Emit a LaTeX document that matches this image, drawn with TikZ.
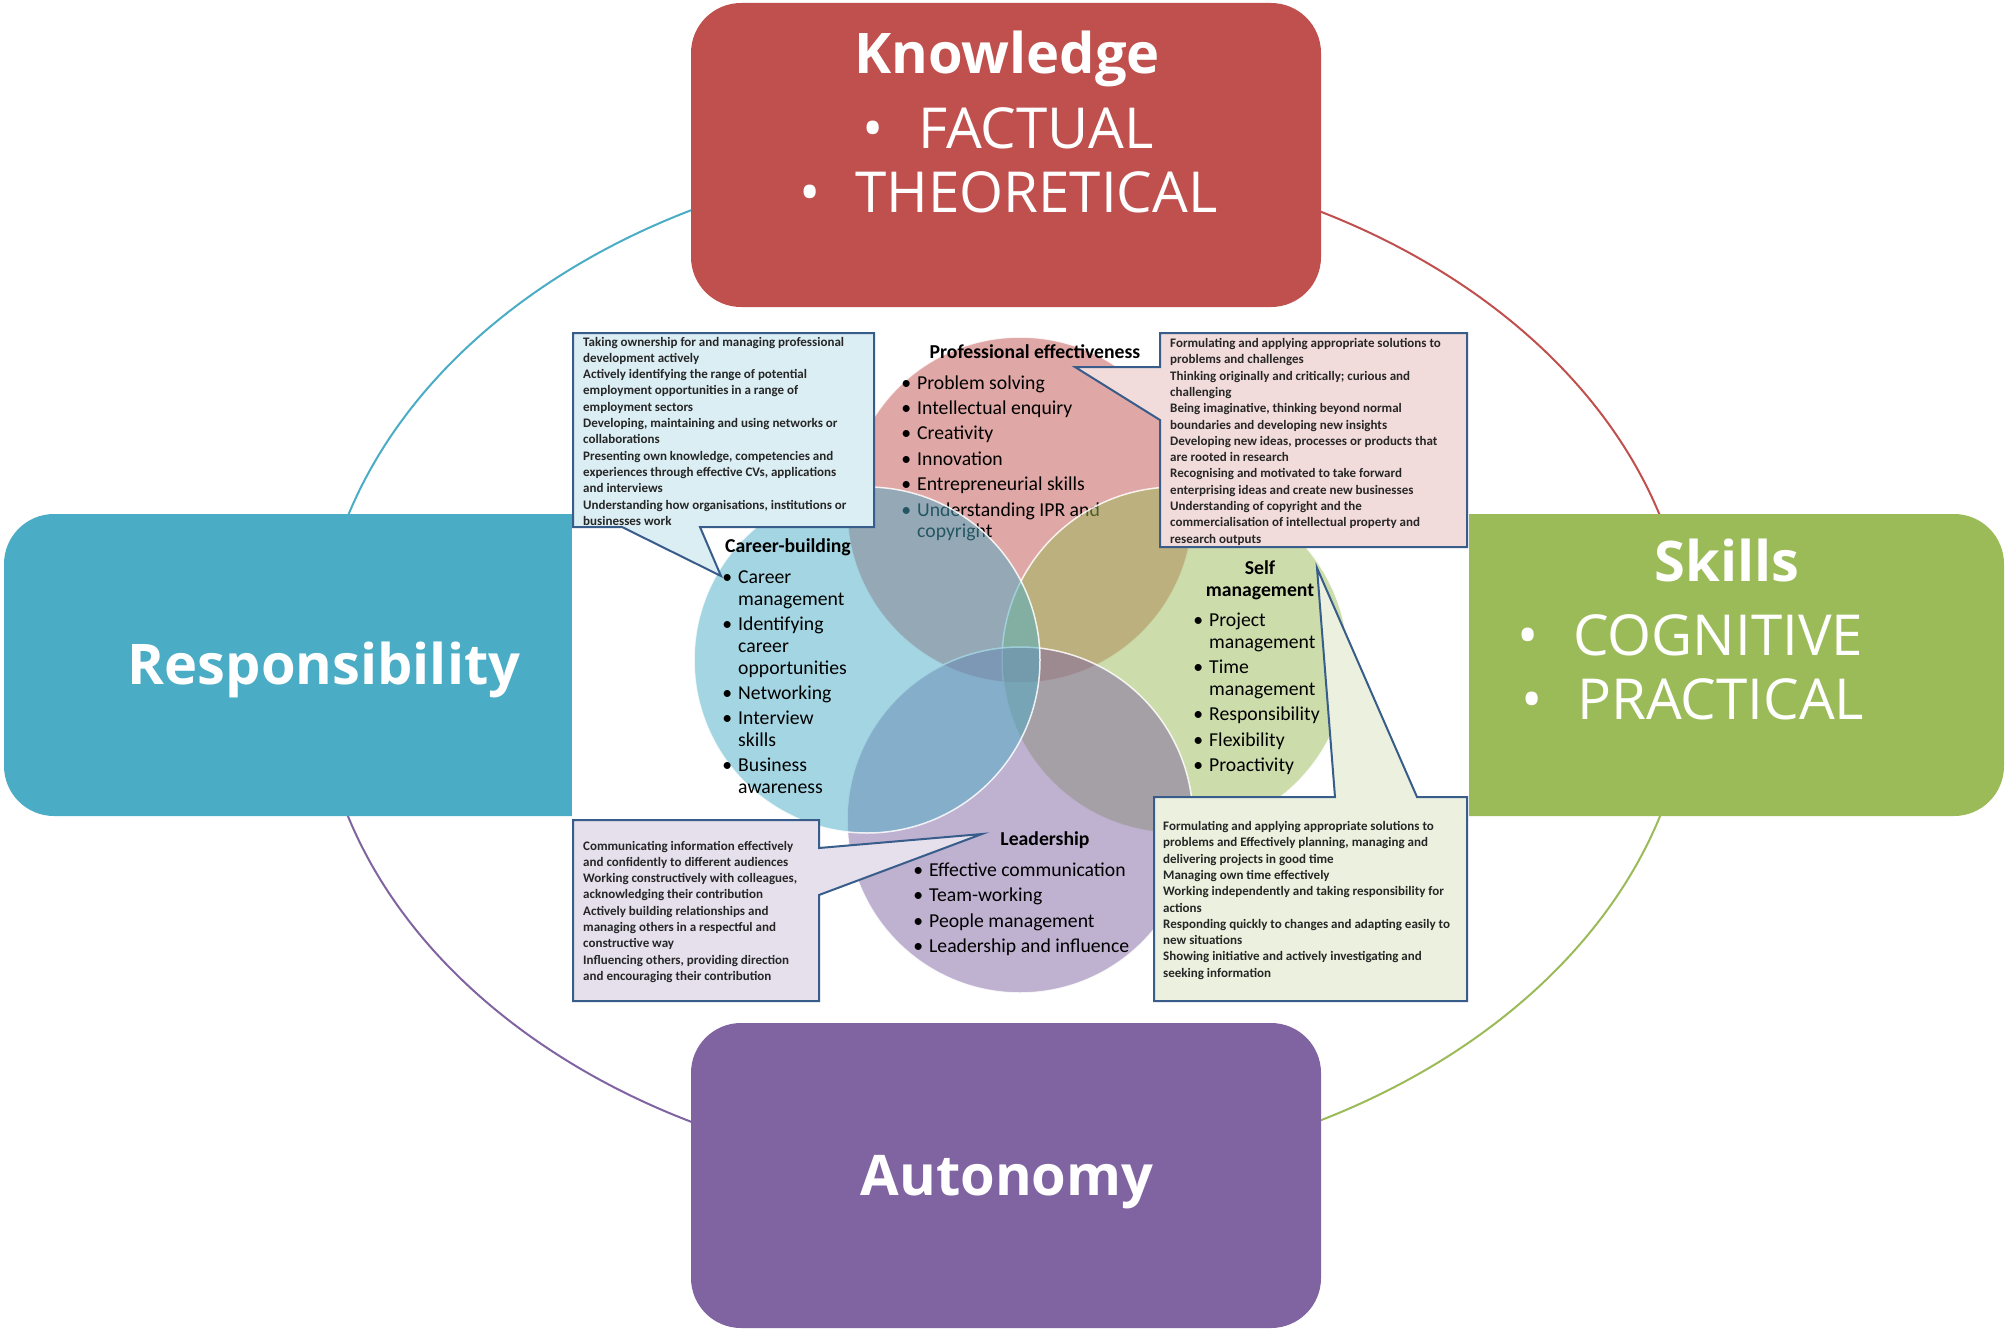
\documentclass[tikz,border=0pt]{standalone}
\usepackage{fontspec}
\setmainfont{Carlito}
\newfontfamily\titlefont{Open Sans}
\usetikzlibrary{calc}
\definecolor{knowred}{HTML}{C0504D}
\definecolor{respblue}{HTML}{4BACC6}
\definecolor{skillgreen}{HTML}{9BBB59}
\definecolor{autopurple}{HTML}{8064A2}
\definecolor{calloutline}{HTML}{385D8A}
\definecolor{careerfill}{HTML}{DBEEF4}
\definecolor{proffill}{HTML}{F2DCDB}
\definecolor{leadfill}{HTML}{E5E0EC}
\definecolor{selffill}{HTML}{EBF1DE}
\newcommand{\bul}{\llap{\textbullet\hspace{6pt}}}
\newcommand{\bigbul}{\llap{\textbullet\hspace{34pt}}}
\begin{document}
\begin{tikzpicture}[x=1pt,y=-1pt,
  areabox/.style={rounded corners=50pt, draw=none, inner sep=0pt},
  ringarc/.style={line width=2pt},
  bigtitle/.style={font={\titlefont\fontsize{56}{60}\selectfont\bfseries}, text=white, anchor=base, inner sep=0pt},
  facet/.style={font={\titlefont\fontsize{56.5}{60}\selectfont}, text=white, anchor=base west, inner sep=0pt},
  venn/.style={fill opacity=0.5, draw=white, draw opacity=0.85, line width=1.5pt},
  head/.style={font={\fontsize{19.7}{21.7}\selectfont\bfseries}, anchor=base, align=center, inner sep=0pt},
  items/.style={font={\fontsize{19.7}{21.7}\selectfont}, anchor=base west, align=left, inner sep=0pt},
  calloutbox/.style={draw=calloutline, line width=2pt, line join=miter},
  note/.style={font={\fontsize{13}{16.3}\selectfont\bfseries}, text=black!85, anchor=base west, align=left, inner sep=0pt}]
\useasboundingbox (0,0) rectangle (2006,1330);
\coordinate (ring) at (1004,666);
\draw[ringarc, respblue] ([xshift=-686pt]ring) arc[start angle=180, end angle=90, x radius=686pt, y radius=512pt];
\draw[ringarc, knowred] ([yshift=512pt]ring) arc[start angle=90, end angle=0, x radius=686pt, y radius=512pt];
\draw[ringarc, skillgreen] ([xshift=686pt]ring) arc[start angle=0, end angle=-90, x radius=686pt, y radius=512pt];
\draw[ringarc, autopurple] ([yshift=-512pt]ring) arc[start angle=-90, end angle=-180, x radius=686pt, y radius=512pt];
\node[areabox, fill=knowred, minimum width=630pt, minimum height=304pt] (knowbox) at (1006,155) {};
\node[areabox, fill=respblue, minimum width=696pt, minimum height=302pt] (respbox) at (352,665) {};
\node[areabox, fill=skillgreen, minimum width=604pt, minimum height=302pt] (skillbox) at (1702,665) {};
\node[areabox, fill=autopurple, minimum width=630pt, minimum height=305pt] (autobox) at (1006,1175.5) {};
\fill[white] (572,330) rectangle (1469,1004);
\node[bigtitle] (knowtitle) at (1007,74) {Knowledge};
\node[facet] (factual) at (918,148) {\bigbul FACTUAL};
\node[facet] (theoretical) at (855,212) {\bigbul THEORETICAL};
\node[bigtitle] (skilltitle) at (1727,581) {Skills};
\node[facet] (cognitive) at (1573,655) {\bigbul COGNITIVE};
\node[facet] (practical) at (1577,719) {\bigbul PRACTICAL};
\node[bigtitle] (resptitle) at (324,684) {Responsibility};
\node[bigtitle] (autotitle) at (1007,1195) {Autonomy};
\filldraw[venn, fill=knowred] (1020,510) circle[radius=173pt];
\node[head] (proftitle) at (1035,358.5) {Professional effectiveness};
\node[items] (proflist) at (917,537.7) {\bul Problem solving\\[3.7pt] \bul Intellectual enquiry\\[3.7pt] \bul Creativity\\[3.7pt] \bul Innovation\\[3.7pt] \bul Entrepreneurial skills\\[3.7pt] \bul Understanding IPR and\\ copyright};
\filldraw[venn, fill=skillgreen] (1175,660) circle[radius=173pt];
\node[head] (selftitle) at (1260,596.2) {Self\\management};
\node[items] (selflist) at (1209,771.5) {\bul Project\\ management\\[3.7pt] \bul Time\\ management\\[3.7pt] \bul Responsibility\\[3.7pt] \bul Flexibility\\[3.7pt] \bul Proactivity};
\filldraw[venn, fill=autopurple] (1020,820) circle[radius=173pt];
\node[head] (leadtitle) at (1045,845.5) {Leadership};
\node[items] (leadlist) at (929,952.7) {\bul Effective communication\\[3.7pt] \bul Team-working\\[3.7pt] \bul People management\\[3.7pt] \bul Leadership and influence};
\filldraw[venn, fill=respblue] (867,660) circle[radius=173pt];
\node[head] (careertitle) at (788,552.5) {Career-building};
\node[items] (careerlist) at (738,793.6) {\bul Career\\ management\\[3.7pt] \bul Identifying\\ career\\ opportunities\\[3.7pt] \bul Networking\\[3.7pt] \bul Interview\\ skills\\[3.7pt] \bul Business\\ awareness};
\coordinate (careerpin) at (721,576);
\coordinate (profpin) at (1075,367);
\coordinate (selfpin) at (1317,568);
\coordinate (leadpin) at (982,834);
\draw[calloutbox, fill=careerfill] (573,333) -- (874,333) -- (874,527) -- (700,527) -- (careerpin) -- (622,527) -- (573,527) -- cycle;
\draw[calloutbox, fill=proffill] (1160,333) -- (1467,333) -- (1467,547) -- (1160,547) -- (1160,420) -- (profpin) -- (1160,367) -- cycle;
\draw[calloutbox, fill=selffill] (1154,797) -- (1335,797) -- (selfpin) -- (1417,797) -- (1467,797) -- (1467,1001) -- (1154,1001) -- cycle;
\draw[calloutbox, fill=leadfill] (573,820) -- (819,820) -- (819,848) -- (leadpin) -- (819,895) -- (819,1001) -- (573,1001) -- cycle;
\node[note] (careernote) at (583,525.3) {Taking ownership for and managing professional\\ development actively\\ Actively identifying the range of potential\\ employment opportunities in a range of\\ employment sectors\\ Developing, maintaining and using networks or\\ collaborations\\ Presenting own knowledge, competencies and\\ experiences through effective CVs, applications\\ and interviews\\ Understanding how organisations, institutions or\\ businesses work};
\node[note] (profnote) at (1170,543.1) {Formulating and applying appropriate solutions to\\ problems and challenges\\ Thinking originally and critically; curious and\\ challenging\\ Being imaginative, thinking beyond normal\\ boundaries and developing new insights\\ Developing new ideas, processes or products that\\ are rooted in research\\ Recognising and motivated to take forward\\ enterprising ideas and create new businesses\\ Understanding of copyright and the\\ commercialisation of intellectual property and\\ research outputs};
\node[note] (leadnote) at (583,980.4) {Communicating information effectively\\ and confidently to different audiences\\ Working constructively with colleagues,\\ acknowledging their contribution\\ Actively building relationships and\\ managing others in a respectful and\\ constructive way\\ Influencing others, providing direction\\ and encouraging their contribution};
\node[note] (selfnote) at (1163,977.2) {Formulating and applying appropriate solutions to\\ problems and Effectively planning, managing and\\ delivering projects in good time\\ Managing own time effectively\\ Working independently and taking responsibility for\\ actions\\ Responding quickly to changes and adapting easily to\\ new situations\\ Showing initiative and actively investigating and\\ seeking information};
\end{tikzpicture}
\end{document}
